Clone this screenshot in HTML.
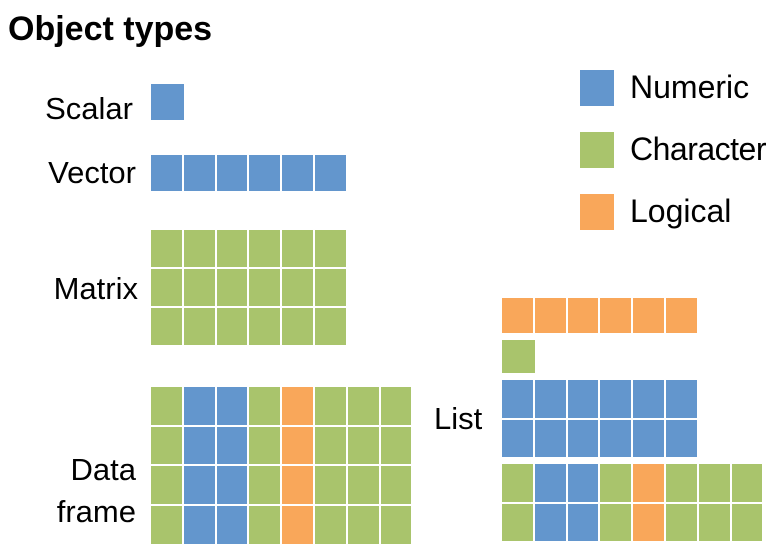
<!DOCTYPE html>
<html><head><meta charset="utf-8"><style>
body{margin:0;width:783px;height:555px;background:#fff;position:relative;overflow:hidden;font-family:"Liberation Sans",sans-serif;color:#000}
.t{position:absolute;font-size:31px;line-height:1;white-space:nowrap}
.c{position:absolute;box-sizing:border-box}
</style></head><body>
<div class="t" style="left:8px;top:12px;font-weight:bold;font-size:34px">Object types</div>
<div class="t" style="right:650px;top:93px">Scalar</div>
<div class="t" style="right:647px;top:157px">Vector</div>
<div class="t" style="right:645px;top:273px">Matrix</div>
<div class="t" style="right:647px;top:449px;text-align:right;line-height:42px">Data<br>frame</div>
<div class="t" style="left:434px;top:403px">List</div>
<div class="c" style="left:580px;top:70px;width:34px;height:36px;background:#6396CD"></div>
<div class="t" style="left:630px;top:71px;font-size:32px">Numeric</div>
<div class="c" style="left:580px;top:132px;width:34px;height:36px;background:#A9C46C"></div>
<div class="t" style="left:630px;top:133px;font-size:32px;letter-spacing:-0.5px">Character</div>
<div class="c" style="left:580px;top:194px;width:34px;height:36px;background:#F9A75A"></div>
<div class="t" style="left:630px;top:195px;font-size:32px">Logical</div>
<script>
const colors={n:'#6396CD',c:'#A9C46C',l:'#F9A75A'};
const scalarCols=['n'];
const vectorCols=['n','n','n','n','n','n'];
const matrixCols=['c','c','c','c','c','c'];
const dfCols=['c','n','n','c','l','c','c','c'];
const listLogical=['l','l','l','l','l','l'];
const listChar=['c'];
const listNum=['n','n','n','n','n','n'];
const listDf=['c','n','n','c','l','c','c','c'];
function grid(name,cols,rows,x,y,cw,ch){
  for(let r=0;r<rows;r++)for(let i=0;i<cols.length;i++){
    const d=document.createElement('div');
    d.className='c';
    
    
    d.style.left=(x+i*cw)+'px';d.style.top=(y+r*ch)+'px';
    d.style.width=(cw-2)+'px';d.style.height=(ch-2)+'px';
    d.style.background=colors[cols[i]];
    document.body.appendChild(d);
  }
}
grid('scalar',scalarCols,1,151,84,34.5,37.5);
grid('vector',vectorCols,1,151,155,32.8,37.5);
grid('matrix',matrixCols,3,151,230,32.8,39);
grid('data-frame',dfCols,4,151,387,32.8,39.7);
grid('list-logical',listLogical,1,502,298,32.8,36.5);
grid('list-character',listChar,1,502,340,35,35);
grid('list-numeric',listNum,2,502,380,32.8,39.5);
grid('list-data-frame',listDf,2,502,464,32.8,39.5);
</script>
</body></html>
